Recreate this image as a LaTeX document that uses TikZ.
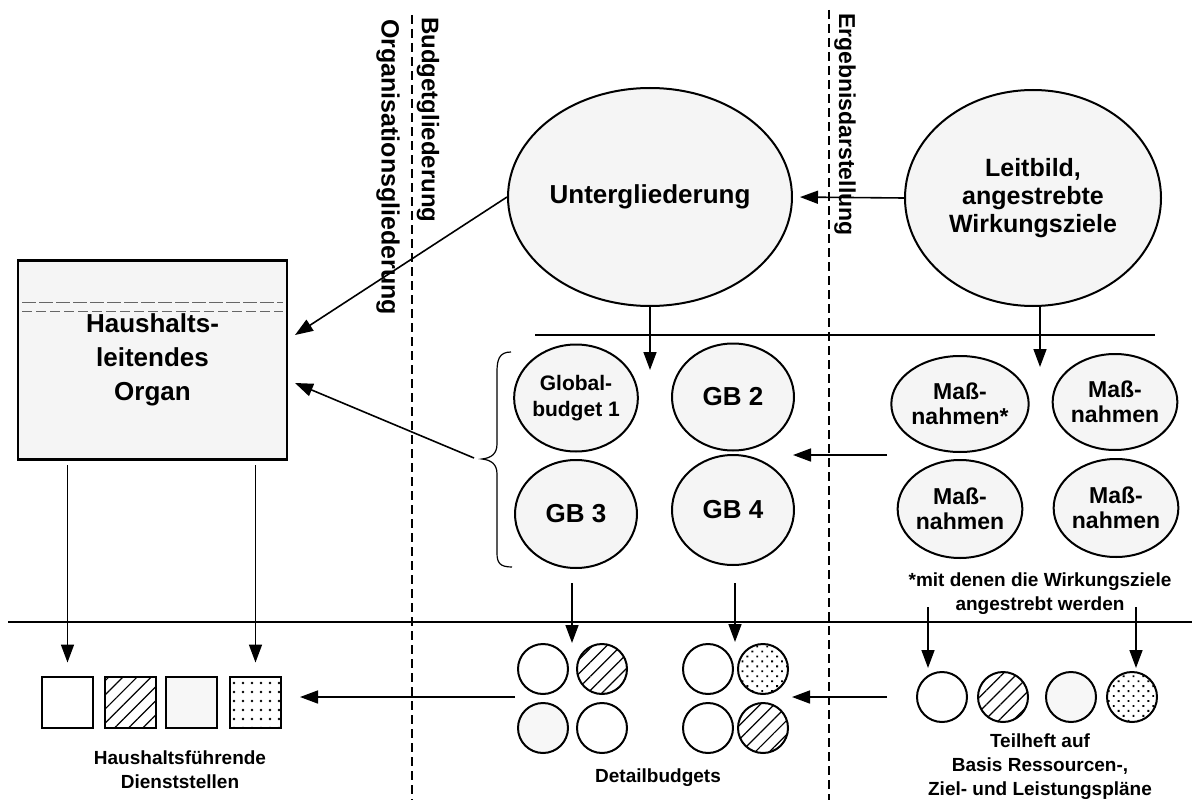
\documentclass[tikz,border=0pt]{standalone}
\usepackage{fontspec}
\setmainfont{Liberation Sans}
\usetikzlibrary{shapes.geometric,arrows.meta,patterns.meta}
\begin{document}
\begin{tikzpicture}[x=1pt,y=-1pt,
  arr/.style={line width=1.6pt,-{Triangle[length=18pt,width=13pt]}},
  bigell/.style={draw,ellipse,line width=2pt,fill=black!4,inner sep=0pt,align=center,font=\bfseries\fontsize{25}{28}\selectfont},
  gbell/.style={draw,ellipse,line width=2pt,fill=black!4,inner sep=0pt,align=center,minimum width=122pt,minimum height=107pt},
  mell/.style={draw,ellipse,line width=2pt,fill=black!4,inner sep=0pt,align=center,minimum width=122pt,minimum height=97pt,font=\bfseries\fontsize{23}{25}\selectfont},
  circ/.style={draw,circle,line width=2pt,minimum size=50pt,inner sep=0pt},
  sq/.style={draw,rectangle,line width=2pt,minimum size=51pt,inner sep=0pt},
  hatch/.style={pattern={Lines[angle=45,distance=10pt,line width=1.2pt]}},
  dotted fill/.style={pattern={Dots[angle=45,distance=7pt,radius=1.3pt]}},
  light/.style={fill=black!3},
  sepline/.style={line width=1.5pt,dash pattern=on 9pt off 5pt},
  rule/.style={line width=1.3pt},
  vlabel/.style={rotate=-90,anchor=west,font=\bfseries\fontsize{24}{26}\selectfont,inner sep=0pt},
  caption/.style={align=center,font=\bfseries\fontsize{19}{24}\selectfont}
]
\useasboundingbox (0,0) rectangle (1192,800);

% separators
\draw[sepline] (412,15) -- (412,800);
\draw[sepline] (829,10) -- (829,800);
\draw[rule] (535,335) -- (1155,335);
\draw[rule] (8,622) -- (1192,622);

% vertical labels
\node[vlabel] (lbud) at (428,17) {Budgetgliederung};
\node[vlabel,font=\bfseries\fontsize{25}{26}\selectfont] (lorg) at (388,19) {Organisationsgliederung};
\node[vlabel,font=\bfseries\fontsize{23}{26}\selectfont] (lerg) at (845,13) {Ergebnisdarstellung};

% big ellipses
\node[bigell,minimum width=272pt,minimum height=218pt,font=\bfseries\fontsize{26}{28}\selectfont] (U) at (650,197) {Untergliederung};
\node[bigell,minimum width=256pt,minimum height=216pt] (L) at (1033,198) {Leitbild,\\angestrebte\\Wirkungsziele};

% box
\node[draw,rectangle,line width=2.5pt,fill=black!4,minimum width=269pt,minimum height=199pt,inner sep=0pt,align=center,
      font=\bfseries\fontsize{26}{34}\selectfont] (box) at (152.5,360) {Haushalts-\\leitendes\\Organ};
\draw[line width=0.8pt,black!60,dash pattern=on 14pt off 3pt] (22,302) -- (283,302);
\draw[line width=0.8pt,black!60,dash pattern=on 10pt off 4pt] (22,311) -- (283,311);

% global budgets
\node[gbell,font=\bfseries\fontsize{21}{26}\selectfont] (gb1) at (576,398) {Global-\\budget 1};
\node[gbell,font=\bfseries\fontsize{26}{30}\selectfont] (gb2) at (733,397) {GB 2};
\node[gbell,font=\bfseries\fontsize{26}{30}\selectfont,minimum height=108pt] (gb3) at (576,514) {GB 3};
\node[gbell,font=\bfseries\fontsize{26}{30}\selectfont,minimum height=110pt] (gb4) at (733,510) {GB 4};

% brace
\draw[line width=1.2pt] (511,352) .. controls (499,352) and (497,360) .. (497,372) -- (497,444)
  .. controls (497,454) and (491,458) .. (482,459) .. controls (491,460) and (497,464) .. (497,474)
  -- (497,553) .. controls (497,563) and (500,567) .. (512,567);
\coordinate (btip) at (474,458);

% Massnahmen
\node[mell,minimum width=120pt,minimum height=96pt] (m1) at (960,404) {Maß-\\nahmen*};
\node[mell,minimum width=124pt,minimum height=96pt] (m2) at (1115,402) {Maß-\\nahmen};
\node[mell,minimum width=120pt,minimum height=98pt] (m3) at (960,509) {Maß-\\nahmen};
\node[mell,minimum width=122pt,minimum height=98pt] (m4) at (1116,508) {Maß-\\nahmen};
\node[caption] (foot) at (1040,594) {*mit denen die Wirkungsziele\\angestrebt werden};

% squares
\node[sq] (s1) at (67.5,702) {};
\node[sq,hatch] (s2) at (130,702) {};
\node[sq,light] (s3) at (191,702) {};
\node[sq,pattern={Dots[distance=9pt,radius=1.3pt]}] (s4) at (255.5,702) {};
\node[caption] (hfd) at (180,770) {Haushaltsführende\\Dienststellen};

% detail budgets
\node[circ] (d1) at (543,669) {};
\node[circ,hatch] (d2) at (602,669) {};
\node[circ,light] (d3) at (543,728) {};
\node[circ] (d4) at (602,728) {};
\node[circ] (d5) at (708,669) {};
\node[circ,dotted fill] (d6) at (763,669) {};
\node[circ] (d7) at (708,728) {};
\node[circ,hatch] (d8) at (763,728) {};
\node[caption] (db) at (658,778) {Detailbudgets};

% Teilheft
\node[circ] (t1) at (942,697) {};
\node[circ,hatch] (t2) at (1003,697) {};
\node[circ,light] (t3) at (1071,697) {};
\node[circ,dotted fill] (t4) at (1132,697) {};
\node[caption] (th) at (1040,767) {Teilheft auf\\Basis Ressourcen-,\\Ziel- und Leistungspläne};

% coordinates for free ends
\coordinate (boxin1) at (295,335);
\coordinate (boxin2) at (295,383);
\coordinate (gbtop) at (650,370);
\coordinate (ltop) at (1040,305);
\coordinate (mtop) at (1040,367);
\coordinate (mleft) at (887,455);
\coordinate (gbright) at (793,455);
\coordinate (bd1) at (67.5,465);
\coordinate (bd2) at (255.5,465);
\coordinate (g3a) at (572,583);
\coordinate (g3b) at (572,643);
\coordinate (g4a) at (735,583);
\coordinate (g4b) at (735,642);
\coordinate (fa) at (928,607);
\coordinate (fb) at (928,668);
\coordinate (fc) at (1136,607);
\coordinate (fd) at (1136,668);
\coordinate (dl) at (515,697);
\coordinate (sqr) at (300,697);
\coordinate (tl) at (887,697);
\coordinate (dr) at (792,697);

% arrows
\draw[arr,shorten >=7pt] (L.west) -- (U.east);
\draw[arr] (U.west) -- (boxin1);
\draw[arr] (btip) -- (boxin2);
\draw[arr] (U.south) -- (gbtop);
\draw[arr] (ltop) -- (mtop);
\draw[arr] (mleft) -- (gbright);
\draw[arr,shorten >=13pt] (bd1) -- (s1);
\draw[arr,shorten >=13pt] (bd2) -- (s4);
\draw[arr] (g3a) -- (g3b);
\draw[arr] (g4a) -- (g4b);
\draw[arr] (fa) -- (fb);
\draw[arr] (fc) -- (fd);
\draw[arr] (dl) -- (sqr);
\draw[arr] (tl) -- (dr);
\end{tikzpicture}
\end{document}
